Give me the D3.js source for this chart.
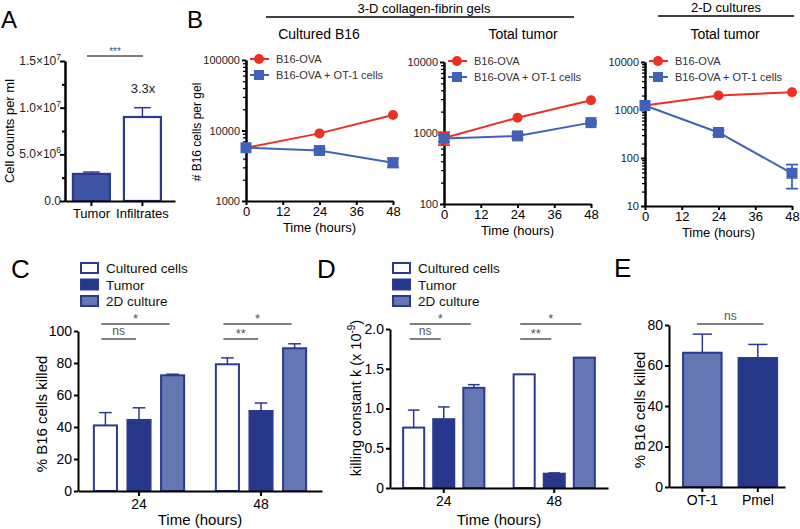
<!DOCTYPE html>
<html><head><meta charset="utf-8">
<script src="https://cdn.jsdelivr.net/npm/d3@7"></script>
<style>body{margin:0;background:#fff}</style>
</head><body><svg id="c" width="800" height="529" xmlns="http://www.w3.org/2000/svg"></svg>
<script>
const FONT = "'Liberation Sans', Arial, Helvetica, sans-serif";
// ---------- Panel A data ----------
const aCategories = ["Tumor", "Infiltrates"];
const aValues = [2.9e6, 9.0e6];
const aErrors = [0.2e6, 1.0e6];
const aTicks = [0, 5e6, 1e7, 1.5e7];
const aTickLabels = [["0.0", ""], ["5.0×10", "6"], ["1.0×10", "7"], ["1.5×10", "7"]];
const aMinorTicks = [2.5e6, 7.5e6, 1.25e7];
// ---------- Panel B data ----------
const bTimes = [0, 24, 48];
const bTimeTicks = [0, 12, 24, 36, 48];
const bSeriesNames = ["B16-OVA", "B16-OVA + OT-1 cells"];
const bCulturedOva = [5700, 9100, 16600];
const bCulturedOvaErr = [0, 0, 0];
const bCulturedOt1 = [5700, 5200, 3500];
const bCulturedOt1Err = [0, 300, 500];
const bTumorOva = [850, 1640, 2900];
const bTumorOvaErr = [175, 0, 0];
const bTumorOt1 = [840, 910, 1400];
const bTumorOt1Err = [90, 70, 60];
const b2dOva = [1240, 2000, 2350];
const b2dOvaErr = [0, 0, 0];
const b2dOt1 = [1240, 340, 48];
const b2dOt1Err = [0, 40, 25];
// ---------- Panels C / D data ----------
const cdGroups = ["24", "48"];
const cdSeries = ["Cultured cells", "Tumor", "2D culture"];
const cCultured = [41, 79.2], cTumor = [44.4, 50], c2D = [72.3, 89.2];
const cCulturedErr = [8, 4], cTumorErr = [7.6, 5], c2DErr = [0.7, 2.8];
const cTicks = [0, 20, 40, 60, 80, 100];
const dCultured = [0.76, 1.43], dTumor = [0.866, 0.18], d2D = [1.26, 1.64];
const dCulturedErr = [0.22, 0], dTumorErr = [0.154, 0.01], d2DErr = [0.04, 0];
const dTicks = [0, 0.5, 1.0, 1.5, 2.0];
const dTickLabels = ["0", "0.5", "1.0", "1.5", "2.0"];
// ---------- Panel E data ----------
const eCategories = ["OT-1", "Pmel"];
const eValues = [66.3, 63.7];
const eErr = [9.2, 6.7];
const eTicks = [0, 20, 40, 60, 80];

// ---------- colours ----------
const NAVY = "#2b3990", TUMOR = "#27378a", LIGHT = "#6577b3", A_FILL = "#3e55a6";
const RED = "#ee3024", BLUE = "#4262b8", SIG = "#555";
const seriesFill = ["#ffffff", TUMOR, LIGHT];

const svg = d3.select("#c").attr("font-family", FONT);

function fmtAxis(g, fs) {
  g.attr("color", "#000").attr("font-family", FONT);
  g.select(".domain").attr("stroke-width", 2);
  g.selectAll(".tick line").attr("stroke-width", 2);
  g.selectAll(".tick text").attr("font-size", fs);
  return g;
}
function txt(x, y, s, fs, anchor, fill) {
  return svg.append("text").attr("x", x).attr("y", y).attr("font-size", fs)
    .attr("text-anchor", anchor || "middle").attr("fill", fill || "#000").text(s);
}
function vtxt(x, y, s, fs) {
  return svg.append("text").attr("transform", `translate(${x},${y}) rotate(-90)`)
    .attr("font-size", fs).attr("text-anchor", "middle").attr("fill", "#000").text(s);
}
function upErr(g, cx, y0, y1, cw, color) {
  if (Math.abs(y0 - y1) < 0.5) return;
  g.append("line").attr("x1", cx).attr("x2", cx).attr("y1", y0).attr("y2", y1).attr("stroke", color).attr("stroke-width", 1.5);
  g.append("line").attr("x1", cx - cw / 2).attr("x2", cx + cw / 2).attr("y1", y1).attr("y2", y1).attr("stroke", color).attr("stroke-width", 1.5);
}
function sigLine(x1, x2, y, label) {
  svg.append("line").attr("x1", x1).attr("x2", x2).attr("y1", y).attr("y2", y).attr("stroke", SIG).attr("stroke-width", 1.5);
  txt((x1 + x2) / 2, label === "ns" ? y - 4 : y - 1, label, label === "ns" ? 12 : 13, "middle", SIG);
}

// ---------- panel letters ----------
txt(1, 28, "A", 24, "start");
txt(187, 28, "B", 24, "start");
txt(11, 278, "C", 26, "start");
txt(317, 278, "D", 26, "start");
txt(614, 277, "E", 26, "start");

// ================= Panel A =================
{
  const y = d3.scaleLinear().domain([0, 1.5e7]).range([201, 61]);
  const x = d3.scaleBand().domain(aCategories).range([65, 175]).paddingInner(0.275).paddingOuter(0.216).align(0.36);
  const g = svg.append("g");
  aCategories.forEach((c, i) => {
    g.append("rect").attr("x", x(c)).attr("y", y(aValues[i])).attr("width", x.bandwidth())
      .attr("height", y(0) - y(aValues[i])).attr("fill", i === 0 ? A_FILL : "#fff")
      .attr("stroke", NAVY).attr("stroke-width", 2.2);
    upErr(g, x(c) + x.bandwidth() / 2, y(aValues[i]), y(aValues[i] + aErrors[i]), x.bandwidth() * 0.45, NAVY);
  });
  fmtAxis(svg.append("g").attr("transform", "translate(65,0)").call(d3.axisLeft(y).tickValues(aMinorTicks).tickSize(3).tickSizeOuter(0).tickFormat("")), 11);
  fmtAxis(svg.append("g").attr("transform", "translate(65,0)").call(d3.axisLeft(y).tickValues(aTicks).tickSize(5).tickSizeOuter(0).tickFormat("")), 11);
  aTicks.forEach((t, i) => {
    const tx = txt(61, y(t) + 4, "", 12, "end", "#222");
    tx.append("tspan").text(aTickLabels[i][0]);
    if (aTickLabels[i][1]) tx.append("tspan").attr("dy", -5).attr("font-size", 8.5).text(aTickLabels[i][1]);
  });
  fmtAxis(svg.append("g").attr("transform", "translate(0,201)").call(d3.axisBottom(x).tickSize(5).tickPadding(3).tickSizeOuter(0)), 13);
  vtxt(14, 131, "Cell counts per ml", 13);
  svg.append("line").attr("x1", 87).attr("x2", 143).attr("y1", 56).attr("y2", 56).attr("stroke", SIG).attr("stroke-width", 1.3);
  txt(115, 55, "***", 10, "middle", SIG);
  txt(143, 93, "3.3x", 13, "middle", "#222");
}

// ================= Panel B =================
const bPanels = [
  { x0: 246, x1: 393, yTop: 60, yBot: 201, dom: [1000, 100000], ova: bCulturedOva, ovaErr: bCulturedOvaErr, ot1: bCulturedOt1, ot1Err: bCulturedOt1Err, title: "Cultured B16", tx: 319, yl: true },
  { x0: 444, x1: 591, yTop: 62, yBot: 204, dom: [100, 10000], ova: bTumorOva, ovaErr: bTumorOvaErr, ot1: bTumorOt1, ot1Err: bTumorOt1Err, title: "Total tumor", tx: 523 },
  { x0: 645, x1: 792, yTop: 62, yBot: 206, dom: [10, 10000], ova: b2dOva, ovaErr: b2dOvaErr, ot1: b2dOt1, ot1Err: b2dOt1Err, title: "Total tumor", tx: 725 }
];
bPanels.forEach(p => {
  const x = d3.scaleLinear().domain([0, 48]).range([p.x0, p.x1]);
  const y = d3.scaleLog().domain(p.dom).range([p.yBot, p.yTop]);
  const majors = [], minors = [];
  for (let e = Math.log10(p.dom[0]); e <= Math.log10(p.dom[1]); e++) {
    majors.push(Math.pow(10, e));
    if (Math.pow(10, e) < p.dom[1]) for (let k = 2; k <= 9; k++) minors.push(k * Math.pow(10, e));
  }
  fmtAxis(svg.append("g").attr("transform", `translate(${p.x0},0)`).call(d3.axisLeft(y).tickValues(minors).tickSize(3).tickSizeOuter(0).tickFormat("")), 11)
    .selectAll(".tick line").attr("stroke-width", 1.3);
  fmtAxis(svg.append("g").attr("transform", `translate(${p.x0},0)`).call(d3.axisLeft(y).tickValues(majors).tickSize(4).tickPadding(2).tickSizeOuter(0).tickFormat(d3.format("d"))), 11)
    .selectAll(".tick text").attr("fill", "#222");
  fmtAxis(svg.append("g").attr("transform", `translate(0,${p.yBot})`).call(d3.axisBottom(x).tickValues(bTimeTicks).tickSize(4).tickPadding(2).tickSizeOuter(0)), 13);
  txt((p.x0 + p.x1) / 2, p.yBot + 31, "Time (hours)", 13);
  txt(p.tx, 39, p.title, 14);
  const g = svg.append("g");
  const series = [{ v: p.ova, e: p.ovaErr, c: RED, m: "circle" }, { v: p.ot1, e: p.ot1Err, c: BLUE, m: "square" }];
  series.forEach(s => {
    g.append("path").datum(bTimes.map((t, i) => [x(t), y(s.v[i])]))
      .attr("d", d3.line()).attr("fill", "none").attr("stroke", s.c).attr("stroke-width", 2);
  });
  series.forEach(s => {
    bTimes.forEach((t, i) => {
      const cx = x(t), cy = y(s.v[i]);
      if (s.m === "circle") g.append("circle").attr("cx", cx).attr("cy", cy).attr("r", 5).attr("fill", s.c);
      else g.append("rect").attr("x", cx - 5.5).attr("y", cy - 5.5).attr("width", 11).attr("height", 11).attr("fill", s.c);
    });
  });
  series.forEach(s => {
    bTimes.forEach((t, i) => {
      if (!(s.e[i] > 0)) return;
      const cx = x(t);
      const ya = y(s.v[i] + s.e[i]), yb = y(s.v[i] - s.e[i]);
      g.append("line").attr("x1", cx).attr("x2", cx).attr("y1", ya).attr("y2", yb).attr("stroke", s.c).attr("stroke-width", 1.8);
      [ya, yb].forEach(yy => g.append("line").attr("x1", cx - 6).attr("x2", cx + 6).attr("y1", yy).attr("y2", yy).attr("stroke", s.c).attr("stroke-width", 1.8));
    });
  });
  // legend
  const ly = [p.yTop - 1, p.yTop + 15];
  series.forEach((s, i) => {
    svg.append("line").attr("x1", p.x0 + 4).attr("x2", p.x0 + 23).attr("y1", ly[i]).attr("y2", ly[i]).attr("stroke", s.c).attr("stroke-width", 2);
    if (s.m === "circle") svg.append("circle").attr("cx", p.x0 + 13).attr("cy", ly[i]).attr("r", 5).attr("fill", s.c);
    else svg.append("rect").attr("x", p.x0 + 8).attr("y", ly[i] - 5).attr("width", 10).attr("height", 10).attr("fill", s.c);
    txt(p.x0 + 30, ly[i] + 4, bSeriesNames[i], 11, "start", "#333");
  });
  if (p.yl) vtxt(201, 132, "# B16 cells per gel", 12);
});
// headers
txt(424, 13, "3-D collagen-fibrin gels", 13);
svg.append("line").attr("x1", 266).attr("x2", 574).attr("y1", 17).attr("y2", 17).attr("stroke", "#000").attr("stroke-width", 1.5);
txt(726, 12, "2-D cultures", 13);
svg.append("line").attr("x1", 658).attr("x2", 794).attr("y1", 16).attr("y2", 16).attr("stroke", "#000").attr("stroke-width", 1.5);

// ================= Panels C and D =================
function groupedPanel(cfg) {
  const y = d3.scaleLinear().domain(cfg.dom).range([cfg.yBot, cfg.yTop]);
  const x = d3.scaleBand().domain(cdGroups).range([cfg.x0, cfg.x1]).paddingInner(cfg.pi).paddingOuter(cfg.po);
  const sub = d3.scaleBand().domain(cdSeries).range([0, x.bandwidth()]).paddingInner(cfg.spi);
  const g = svg.append("g");
  cdGroups.forEach((grp, gi) => {
    cdSeries.forEach((s, si) => {
      const v = cfg.vals[si][gi], e = cfg.errs[si][gi];
      const bx = x(grp) + sub(s);
      g.append("rect").attr("x", bx).attr("y", y(v)).attr("width", sub.bandwidth()).attr("height", y(0) - y(v))
        .attr("fill", seriesFill[si]).attr("stroke", NAVY).attr("stroke-width", 2);
      upErr(g, bx + sub.bandwidth() / 2, y(v), y(v + e), sub.bandwidth() * 0.55, NAVY);
    });
    const c = s => x(grp) + sub(s) + sub.bandwidth() / 2;
    sigLine(c(cdSeries[0]) - 4, c(cdSeries[2]) - 3, 324, "*");
    sigLine(c(cdSeries[0]) - 4, c(cdSeries[1]) - 3, 339, cfg.sig2[gi]);
  });
  fmtAxis(svg.append("g").attr("transform", `translate(${cfg.x0},0)`).call(d3.axisLeft(y).tickValues(cfg.ticks).tickSize(4).tickPadding(2).tickSizeOuter(0).tickFormat((d, i) => cfg.tickLabels[i])), 14);
  fmtAxis(svg.append("g").attr("transform", `translate(0,${cfg.yBot})`).call(d3.axisBottom(x).tickSize(5).tickPadding(3).tickSizeOuter(0)), 14);
  txt((cfg.x0 + cfg.x1) / 2, 525, "Time (hours)", 15);
  // legend
  cdSeries.forEach((s, i) => {
    const ry = 268 + i * 16.5;
    svg.append("rect").attr("x", cfg.lx).attr("y", ry - 5).attr("width", 17).attr("height", 10)
      .attr("fill", seriesFill[i]).attr("stroke", NAVY).attr("stroke-width", 2);
    txt(cfg.lx + 25, ry + 5, s, 13.5, "start", "#111");
  });
}
groupedPanel({ x0: 78, x1: 322, yTop: 331, yBot: 491, dom: [0, 100], pi: 0.26, po: 0.13, spi: 0.313,
  vals: [cCultured, cTumor, c2D], errs: [cCulturedErr, cTumorErr, c2DErr], ticks: cTicks, tickLabels: cTicks.map(String),
  sig2: ["ns", "**"], lx: 81 });
vtxt(47, 414, "% B16 cells killed", 15);
groupedPanel({ x0: 390, x1: 608, yTop: 329, yBot: 488, dom: [0, 2], pi: 0.265, po: 0.119, spi: 0.3,
  vals: [dCultured, dTumor, d2D], errs: [dCulturedErr, dTumorErr, d2DErr], ticks: dTicks, tickLabels: dTickLabels,
  sig2: ["ns", "**"], lx: 393 });
{
  const t = vtxt(361, 398, "", 14.5);
  t.append("tspan").text("killing constant k (x 10");
  t.append("tspan").attr("dy", -6).attr("font-size", 10).text("-9");
  t.append("tspan").attr("dy", 6).text(")");
}

// ================= Panel E =================
{
  const y = d3.scaleLinear().domain([0, 80]).range([487, 325]);
  const x = d3.scaleBand().domain(eCategories).range([669, 785]).paddingInner(0.306).paddingOuter(0.198).align(0.64);
  const fills = [LIGHT, TUMOR];
  const g = svg.append("g");
  eCategories.forEach((c, i) => {
    g.append("rect").attr("x", x(c)).attr("y", y(eValues[i])).attr("width", x.bandwidth())
      .attr("height", y(0) - y(eValues[i])).attr("fill", fills[i]).attr("stroke", NAVY).attr("stroke-width", 2);
    upErr(g, x(c) + x.bandwidth() / 2, y(eValues[i]), y(eValues[i] + eErr[i]), x.bandwidth() * 0.5, NAVY);
  });
  fmtAxis(svg.append("g").attr("transform", "translate(669,0)").call(d3.axisLeft(y).tickValues(eTicks).tickSize(4).tickPadding(2).tickSizeOuter(0)), 14);
  fmtAxis(svg.append("g").attr("transform", "translate(0,487)").call(d3.axisBottom(x).tickSize(5).tickPadding(3).tickSizeOuter(0)), 14);
  vtxt(645, 410, "% B16 cells killed", 15);
  sigLine(x(eCategories[0]) + 14, x(eCategories[1]) + 25, 324, "ns");
}
</script></body></html>
